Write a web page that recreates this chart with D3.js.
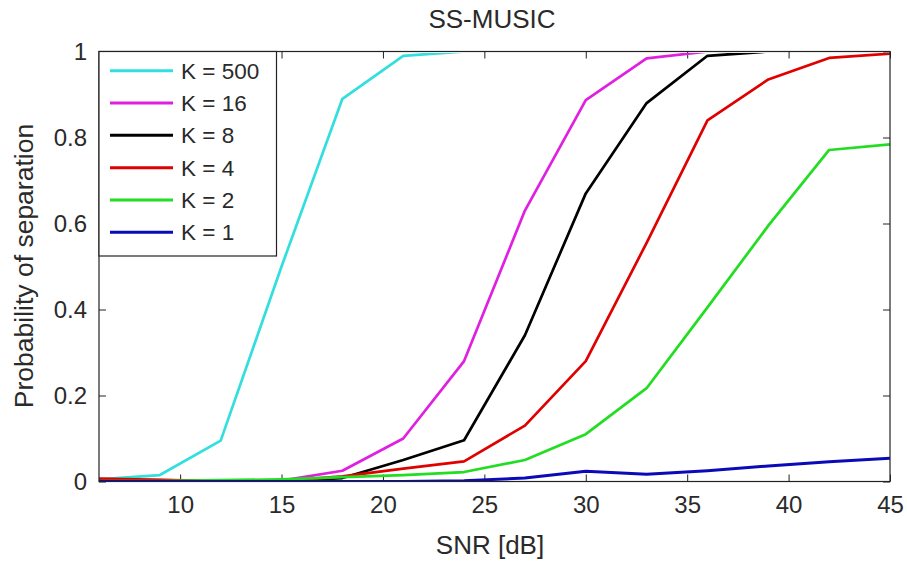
<!DOCTYPE html>
<html>
<head>
<meta charset="utf-8">
<script src="https://cdn.jsdelivr.net/npm/d3@7"></script>
<style>
  html, body { margin: 0; padding: 0; background: #fff; }
  svg { display: block; }
  text { font-family: "Liberation Sans", Arial, sans-serif; fill: #2a2a2a; }
</style>
</head>
<body>
<div id="chart"></div>
<script>
// ---- data ----
const snr = [6, 9, 12, 15, 18, 21, 24, 27, 30, 33, 36, 39, 42, 45];
const k500 = [0.005, 0.015, 0.095, 0.50, 0.89, 0.99, 1, 1, 1, 1, 1, 1, 1, 1];
const k16  = [0.005, 0.003, 0.001, 0.002, 0.025, 0.10, 0.28, 0.63, 0.887, 0.984, 1, 1, 1, 1];
const k8   = [0.002, 0.001, 0.001, 0.001, 0.008, 0.05, 0.096, 0.34, 0.67, 0.88, 0.99, 1, 1, 1];
const k4   = [0.007, 0.004, 0.001, 0.001, 0.012, 0.03, 0.047, 0.13, 0.28, 0.555, 0.84, 0.935, 0.985, 0.995];
const k2   = [0.001, 0.001, 0.003, 0.005, 0.01, 0.015, 0.022, 0.05, 0.11, 0.217, 0.405, 0.595, 0.771, 0.784];
const k1   = [0, 0, 0, 0, 0, 0, 0.002, 0.008, 0.024, 0.017, 0.025, 0.036, 0.046, 0.054];
const seriesNames = ["K = 500", "K = 16", "K = 8", "K = 4", "K = 2", "K = 1"];
const seriesValues = [k500, k16, k8, k4, k2, k1];
const seriesColors = ["#33dede", "#e020e0", "#000000", "#e00000", "#22dd22", "#0a0ab8"];
const xTicks = [10, 15, 20, 25, 30, 35, 40, 45];
const yTicks = [0, 0.2, 0.4, 0.6, 0.8, 1];
const yTickLabels = ["0", "0.2", "0.4", "0.6", "0.8", "1"];
const titleText = "SS-MUSIC";
const xLabelText = "SNR [dB]";
const yLabelText = "Probability of separation";

// ---- layout ----
const W = 907, H = 562;
const L = 99, R = 890, T = 51.5, B = 481.5;

const svg = d3.select("#chart").append("svg").attr("width", W).attr("height", H);
svg.append("rect").attr("width", W).attr("height", H).attr("fill", "#fff");

const x = d3.scaleLinear().domain([6, 45]).range([L, R]);
const y = d3.scaleLinear().domain([0, 1]).range([B, T]);

// clip
svg.append("clipPath").attr("id", "clip").append("rect")
  .attr("x", L).attr("y", T + 1.6).attr("width", R - L).attr("height", B - T - 1.1);

// axes (inward ticks)
const axisColor = "#222";
const tickLen = 7;
function styleAxis(g) {
  g.select(".domain").remove();
  g.selectAll(".tick line").attr("stroke", axisColor).attr("stroke-width", 1);
  g.selectAll(".tick text").attr("fill", "#2a2a2a").style("font-size", "24px")
    .style("font-family", '"Liberation Sans", Arial, sans-serif');
}
svg.append("g").attr("transform", `translate(0,${B})`)
  .call(d3.axisBottom(x).tickValues(xTicks).tickSizeInner(-tickLen).tickSizeOuter(0).tickPadding(14.5).tickFormat(d3.format("d")))
  .call(styleAxis);
svg.append("g").attr("transform", `translate(0,${T})`)
  .call(d3.axisTop(x).tickValues(xTicks).tickSizeInner(-tickLen).tickSizeOuter(0).tickFormat(""))
  .call(styleAxis);
svg.append("g").attr("transform", `translate(${L},0)`)
  .call(d3.axisLeft(y).tickValues(yTicks).tickSizeInner(-tickLen).tickSizeOuter(0).tickPadding(12)
    .tickFormat((d, i) => yTickLabels[i]))
  .call(styleAxis);
svg.append("g").attr("transform", `translate(${R},0)`)
  .call(d3.axisRight(y).tickValues(yTicks).tickSizeInner(-tickLen).tickSizeOuter(0).tickFormat(""))
  .call(styleAxis);

// lines
const line = d3.line().x((d, i) => x(snr[i])).y(d => y(d));
const linesG = svg.append("g").attr("clip-path", "url(#clip)");
seriesValues.forEach((vals, s) => {
  linesG.append("path").datum(vals)
    .attr("d", line)
    .attr("fill", "none")
    .attr("stroke", seriesColors[s])
    .attr("stroke-width", s === 5 ? 3 : 2.7)
    .attr("stroke-linejoin", "round");
});

// border
svg.append("rect").attr("x", L).attr("y", T).attr("width", R - L).attr("height", B - T)
  .attr("fill", "none").attr("stroke", axisColor).attr("stroke-width", 1.2);

// title & labels
svg.append("text").attr("x", 492).attr("y", 28).attr("text-anchor", "middle")
  .style("font-size", "26px").text(titleText);
svg.append("text").attr("x", 490).attr("y", 554).attr("text-anchor", "middle")
  .style("font-size", "26px").text(xLabelText);
svg.append("text").attr("transform", `translate(33,266) rotate(-90)`).attr("text-anchor", "middle")
  .style("font-size", "26.5px").text(yLabelText);

// legend
const legX = L, legY = T, legW = 177.5, legH = 204.5;
const leg = svg.append("g");
leg.append("rect").attr("x", legX).attr("y", legY).attr("width", legW).attr("height", legH)
  .attr("fill", "#fff").attr("stroke", axisColor).attr("stroke-width", 1.2);
const rowY = d3.scaleLinear().domain([0, 5]).range([70.7, 232.3]);
seriesNames.forEach((name, i) => {
  leg.append("line").attr("x1", 110).attr("x2", 173).attr("y1", rowY(i)).attr("y2", rowY(i))
    .attr("stroke", seriesColors[i]).attr("stroke-width", 3);
  leg.append("text").attr("x", 181).attr("y", rowY(i) + 8).style("font-size", "22.5px").text(name);
});
</script>
</body>
</html>
